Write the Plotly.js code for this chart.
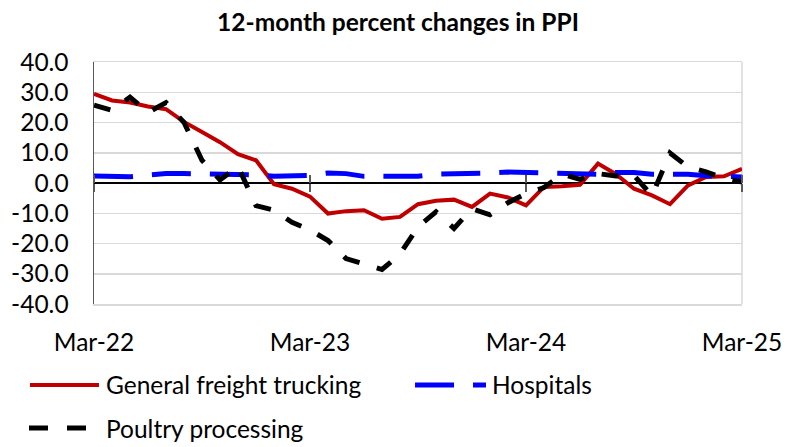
<!DOCTYPE html>
<html>
<head>
<meta charset="utf-8">
<script src="https://cdn.plot.ly/plotly-3.0.1.min.js"></script>
<style>html,body{margin:0;padding:0;background:#fff;}#chart{width:794px;height:447px;}</style>
</head>
<body>
<div id="chart"></div>
<script>
const months = ['Mar-22','Apr-22','May-22','Jun-22','Jul-22','Aug-22','Sep-22','Oct-22','Nov-22','Dec-22','Jan-23','Feb-23',
  'Mar-23','Apr-23','May-23','Jun-23','Jul-23','Aug-23','Sep-23','Oct-23','Nov-23','Dec-23','Jan-24','Feb-24',
  'Mar-24','Apr-24','May-24','Jun-24','Jul-24','Aug-24','Sep-24','Oct-24','Nov-24','Dec-24','Jan-25','Feb-25','Mar-25'];
const seriesNames = ['General freight trucking', 'Hospitals', 'Poultry processing'];
const trucking = [29.5, 27.3, 26.6, 25.3, 24.4, 20.2, 16.9, 13.5, 9.5, 7.5, -0.4, -1.9,
  -4.5, -10.1, -9.3, -9.0, -11.8, -11.2, -7.0, -5.9, -5.5, -7.9, -3.5, -4.8,
  -7.4, -1.3, -1.1, -0.6, 6.4, 2.9, -1.9, -4.1, -7.0, -0.8, 2.0, 2.2, 4.7];
const hospitals = [2.3, 2.0, 2.1, 2.6, 3.1, 3.1, 3.1, 3.0, 3.0, 2.7, 2.2, 2.3,
  2.5, 3.3, 3.1, 2.2, 2.3, 2.2, 2.2, 2.9, 2.9, 3.0, 3.3, 3.6,
  3.5, 3.1, 3.3, 3.1, 2.9, 3.5, 3.5, 2.9, 3.1, 2.9, 2.4, 2.2, 2.0];
const poultry = [25.7, 24.0, 28.4, 23.3, 26.6, 20.0, 7.5, 1.0, 5.5, -7.5, -9.0, -13.0,
  -15.5, -19.0, -25.0, -27.0, -28.6, -23.5, -14.5, -9.5, -15.0, -8.5, -10.5, -6.5,
  -3.5, -1.5, 2.9, 1.2, 3.1, 2.3, 2.5, -4.2, 9.9, 5.3, 3.7, 1.6, 0.3];
const xTickLabels = ['Mar-22', 'Mar-23', 'Mar-24', 'Mar-25'];
const yTickValues = [-40, -30, -20, -10, 0, 10, 20, 30, 40];
const yTickLabels = ['-40.0', '-30.0', '-20.0', '-10.0', '0.0', '10.0', '20.0', '30.0', '40.0'];
const chartTitle = '12-month percent changes in PPI';

const FONT = 'Lato, Carlito, Calibri, sans-serif';
const TXT = 24.5;
const colors = ['#c00000', '#0000ff', '#000000'];
const widths = [4, 5, 5];
const dashes = ['solid', '39px,19px', '17px,18px'];

const traces = [
  {x: months, y: trucking, name: seriesNames[0], type: 'scatter', mode: 'lines',
   line: {color: colors[0], width: widths[0], dash: dashes[0]}, xaxis: 'x', yaxis: 'y', showlegend: false},
  {x: months, y: hospitals, name: seriesNames[1], type: 'scatter', mode: 'lines',
   line: {color: colors[1], width: widths[1], dash: dashes[1]}, xaxis: 'x2', yaxis: 'y', showlegend: false},
  {x: months, y: poultry, name: seriesNames[2], type: 'scatter', mode: 'lines',
   line: {color: colors[2], width: widths[2], dash: dashes[2]}, xaxis: 'x3', yaxis: 'y', showlegend: false}
];

const zeroTickAxis = (side) => ({
  type: 'category', overlaying: 'x', anchor: 'free', position: 0.5, side: side,
  range: [0, months.length - 1], showgrid: false, zeroline: false, showline: false,
  ticks: 'outside', ticklen: 8, tickwidth: 1.2, tickcolor: '#595959',
  tickmode: 'array', tickvals: xTickLabels, showticklabels: false, fixedrange: true
});

const legY1 = -0.3347, legY2 = -0.5124;
const layout = {
  width: 794, height: 447,
  margin: {l: 94, r: 52, t: 62, b: 143, pad: 0},
  paper_bgcolor: '#ffffff', plot_bgcolor: '#ffffff',
  font: {family: FONT, color: '#000000', size: TXT},
  showlegend: false,
  title: {text: chartTitle, font: {family: FONT, size: 24.5, weight: 'bold', color: '#000'},
          x: 0.5013, xref: 'container', xanchor: 'center', y: 0.9508, yref: 'container', yanchor: 'middle'},
  xaxis: {
    type: 'category', range: [0, months.length - 1],
    tickmode: 'array', tickvals: xTickLabels, ticktext: xTickLabels,
    showgrid: false, zeroline: false, showline: true, linecolor: '#d9d9d9', linewidth: 1.5, mirror: true,
    ticks: '', ticklabelstandoff: 16, tickfont: {family: FONT, size: TXT, color: '#000'}, fixedrange: true
  },
  xaxis2: zeroTickAxis('bottom'),
  xaxis3: zeroTickAxis('top'),
  yaxis: {
    range: [-40, 40], tickmode: 'array', tickvals: yTickValues, ticktext: yTickLabels,
    showgrid: true, gridcolor: '#d9d9d9', gridwidth: 1.5,
    zeroline: true, zerolinecolor: '#000000', zerolinewidth: 1.3,
    showline: true, linecolor: '#595959', linewidth: 1.5,
    ticks: '', ticklabelstandoff: 19, tickfont: {family: FONT, size: TXT, color: '#000'}, fixedrange: true
  },
  shapes: [
    {type: 'line', xref: 'paper', yref: 'paper', x0: 1, x1: 1, y0: 0, y1: 1,
     line: {color: '#d9d9d9', width: 1.5}, layer: 'below'},
    {type: 'line', xref: 'paper', yref: 'paper', x0: -0.0988, x1: 0.0077, y0: legY1, y1: legY1,
     line: {color: colors[0], width: widths[0]}},
    {type: 'line', xref: 'paper', yref: 'paper', x0: 0.4954, x1: 0.6049, y0: legY1, y1: legY1,
     line: {color: colors[1], width: widths[1], dash: dashes[1]}},
    {type: 'line', xref: 'paper', yref: 'paper', x0: -0.1003, x1: -0.0108, y0: legY2, y1: legY2,
     line: {color: colors[2], width: widths[2], dash: '19px,19px'}}
  ],
  annotations: [
    {text: seriesNames[0], xref: 'paper', yref: 'paper', x: 0.0155, y: legY1, xanchor: 'left', yanchor: 'middle',
     showarrow: false, font: {family: FONT, size: TXT, color: '#000'}},
    {text: seriesNames[1], xref: 'paper', yref: 'paper', x: 0.6111, y: legY1, xanchor: 'left', yanchor: 'middle',
     showarrow: false, font: {family: FONT, size: TXT, color: '#000'}},
    {text: seriesNames[2], xref: 'paper', yref: 'paper', x: 0.0155, y: legY2, xanchor: 'left', yanchor: 'middle',
     showarrow: false, font: {family: FONT, size: TXT, color: '#000'}}
  ]
};

Plotly.newPlot('chart', traces, layout, {staticPlot: true, displayModeBar: false});
</script>
</body>
</html>
